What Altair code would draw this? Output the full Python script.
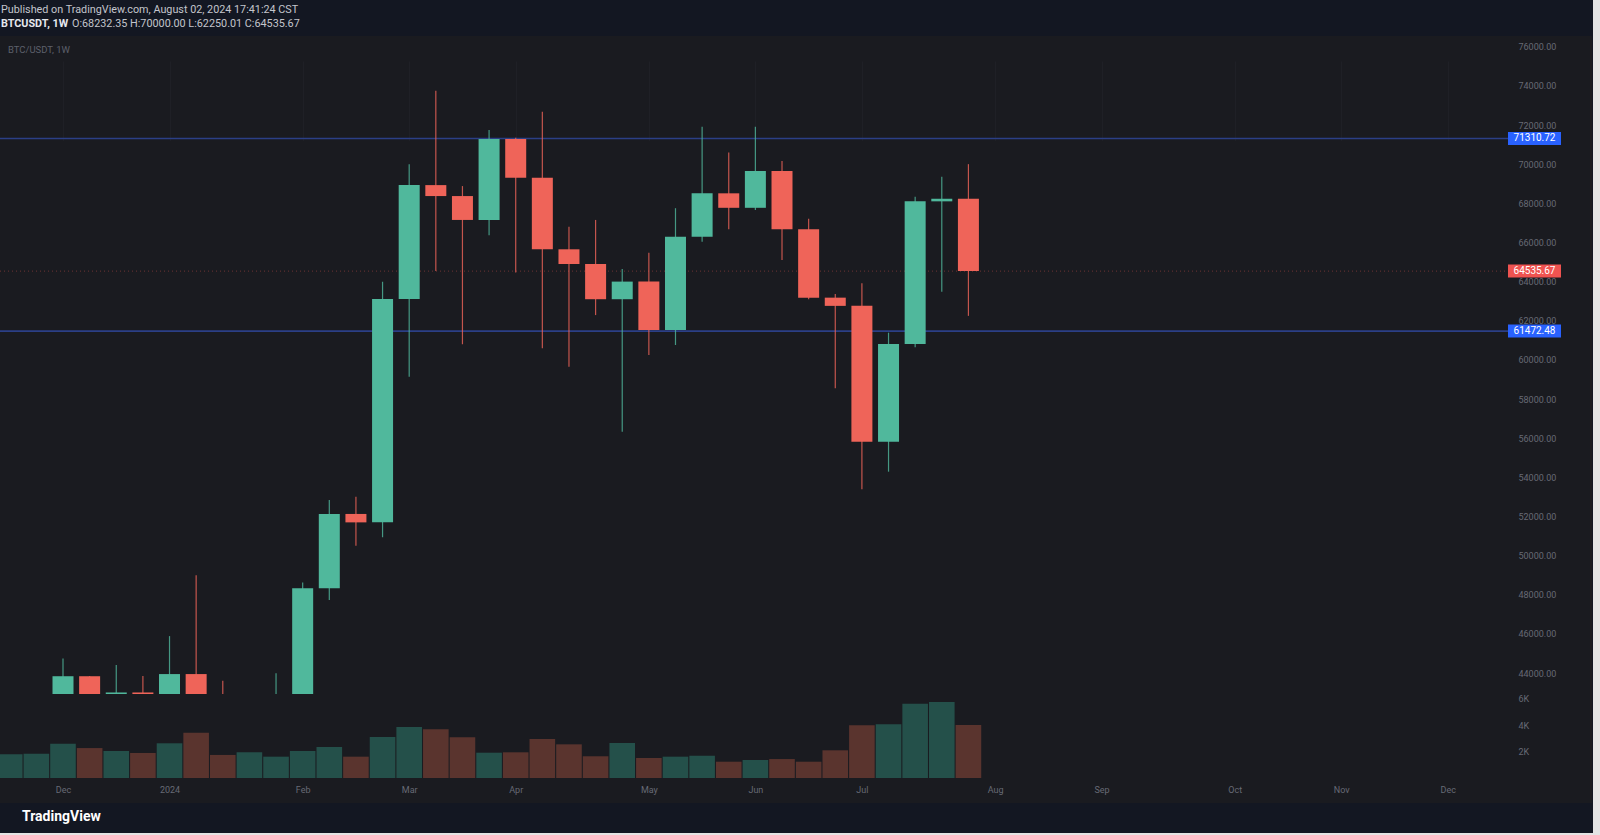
import altair as alt
import pandas as pd

# ---------------- data ----------------
weeks = ["2023-11-20", "2023-11-27", "2023-12-04", "2023-12-11", "2023-12-18", "2023-12-25",
         "2024-01-01", "2024-01-08", "2024-01-15", "2024-01-22", "2024-01-29", "2024-02-05",
         "2024-02-12", "2024-02-19", "2024-02-26", "2024-03-04", "2024-03-11", "2024-03-18",
         "2024-03-25", "2024-04-01", "2024-04-08", "2024-04-15", "2024-04-22", "2024-04-29",
         "2024-05-06", "2024-05-13", "2024-05-20", "2024-05-27", "2024-06-03", "2024-06-10",
         "2024-06-17", "2024-06-24", "2024-07-01", "2024-07-08", "2024-07-15", "2024-07-22",
         "2024-07-29"]
opens = [37360, 37450, 39970, 43840, 41360, 43010, 42280, 43950, 41730, 41580, 42120, 42580,
         48330, 52130, 51700, 63110, 68930, 68370, 67150, 71290, 69310, 65650, 64900, 63100,
         64000, 61530, 66290, 68510, 67770, 69650, 66670, 63180, 62760, 55820, 60810, 68100,
         68232.35]
highs = [38410, 40250, 44750, 43850, 44410, 43850, 45890, 49000, 43610, 42840, 43990, 48630,
         52840, 53010, 63990, 69990, 73750, 68880, 71740, 71350, 72680, 66800, 67150, 64640,
         65480, 67750, 71910, 70600, 71910, 70160, 67210, 63370, 63910, 61390, 68340, 69360,
         70000.00]
lows = [35630, 36870, 39970, 40500, 40550, 41400, 40750, 41500, 40280, 38560, 41800, 42260,
        47735, 50510, 50940, 59140, 64540, 60800, 66370, 64470, 60590, 59650, 62290, 56330,
        60250, 60760, 66040, 66670, 67660, 65100, 63100, 58550, 53390, 54290, 60640, 63480,
        62250.01]
closes = [37450, 39970, 43840, 41360, 43010, 42280, 43950, 41730, 41580, 42120, 42580, 48330,
          52130, 51700, 63110, 68930, 68370, 67150, 71290, 69310, 65650, 64900, 63100, 64000,
          61530, 66290, 68510, 67770, 69650, 66670, 63180, 62760, 55820, 60810, 68100, 68232.35,
          64535.67]
volumes = [1790, 1830, 2590, 2260, 2040, 1890, 2620, 3420, 1740, 1940, 1610, 2040,
           2340, 1610, 3090, 3850, 3670, 3070, 1910, 1940, 2940, 2540, 1640, 2640,
           1510, 1610, 1680, 1230, 1360, 1430, 1230, 2090, 3980, 4050, 5610, 5740, 4000]

level_prices = [71310.72, 61472.48, 64535.67]
level_kinds = ["blue", "blue", "red"]
level_labels = ["71310.72", "61472.48", "64535.67"]

price_ticks = [44000, 46000, 48000, 50000, 52000, 54000, 56000, 58000, 60000, 62000, 64000,
               66000, 68000, 70000, 72000, 74000, 76000]
volume_ticks = [2000, 4000, 6000]
month_ticks = ["2023-12-04", "2024-01-01", "2024-02-05", "2024-03-04", "2024-04-01", "2024-05-06",
               "2024-06-03", "2024-07-01", "2024-08-05", "2024-09-02", "2024-10-07", "2024-11-04",
               "2024-12-02"]

header_line1 = "Published on TradingView.com, August 02, 2024 17:41:24 CST"
header_symbol = "BTCUSDT, 1W"
header_ohlc = "O:68232.35 H:70000.00 L:62250.01 C:64535.67"
pane_title = "BTC/USDT, 1W"
brand = "TradingView"

# ---------------- layout ----------------
W, H = 1592, 767
PAD = {"left": 0, "top": 36, "right": 8, "bottom": 32}
BG_CHART = "#1a1b20"
BG_BAND = "#131722"
UP, DOWN = "#50b89c", "#ef6459"
VUP, VDOWN = "#24504a", "#5a342e"
AXIS_COL = "#676a75"
FONT = "Roboto"


def ms(d):
    return int(pd.Timestamp(d).value // 10**6)


WEEK = 7 * 86400000
PXW = 26.63
X0 = 63.0
anchor = ms("2023-12-04")
x_domain = [anchor - X0 / PXW * WEEK, anchor + (W - X0) / PXW * WEEK]

price_scale = alt.Scale(domain=[42932, 76547], range=[658, 0], clamp=True, zero=False, nice=False)
vol_scale = alt.Scale(domain=[0, 6000], range=[742, 662.5], zero=False, nice=False)

df = pd.DataFrame({"date": weeks, "open": opens, "high": highs, "low": lows,
                   "close": closes, "vol": volumes})
lv = pd.DataFrame({"price": level_prices, "kind": level_kinds, "label": level_labels})

x_enc = alt.X(
    "date:T",
    scale=alt.Scale(type="utc", domain=x_domain, nice=False, padding=0),
    axis=alt.Axis(values=[ms(d) for d in month_ticks],
                  labelExpr="utcmonth(datum.value) == 0 ? utcFormat(datum.value, '%Y') : utcFormat(datum.value, '%b')",
                  orient="bottom", offset=-20, grid=True, gridColor="#1f2026", gridWidth=1,
                  domain=False, ticks=False, labelPadding=2, labelColor=AXIS_COL,
                  labelFontSize=9, labelFont=FONT, title=None, labelFlush=False,
                  labelOverlap=False),
)

color_cond = alt.condition("datum.close >= datum.open", alt.value(UP), alt.value(DOWN))
vcolor_cond = alt.condition("datum.close >= datum.open", alt.value(VUP), alt.value(VDOWN))

base = alt.Chart(df)

volume = base.mark_bar(size=25.6, clip=True).encode(
    x=x_enc,
    y=alt.Y("vol:Q", scale=vol_scale,
            axis=alt.Axis(values=volume_ticks, labelExpr="(datum.value / 1000) + 'K'",
                          orient="right", offset=-74, labelAlign="left", labelPadding=0,
                          ticks=False, domain=False, grid=False, labelColor=AXIS_COL,
                          labelFontSize=9, labelFont=FONT, title=None)),
    color=vcolor_cond,
)

wick = base.mark_rule(strokeWidth=1.2, opacity=0.8).encode(
    x=x_enc,
    y=alt.Y("low:Q", scale=price_scale,
            axis=alt.Axis(values=price_ticks, format=".2f", orient="right", offset=-74,
                          labelAlign="left", labelPadding=0, ticks=False, domain=False,
                          grid=False, labelColor=AXIS_COL, labelFontSize=9, labelFont=FONT,
                          title=None, labelOverlap=False)),
    y2="high:Q",
    color=color_cond,
)

body = base.mark_bar(size=21).encode(
    x=x_enc,
    y=alt.Y("open:Q", scale=price_scale),
    y2="close:Q",
    color=color_cond,
)

lines = alt.Chart(lv).mark_rule().encode(
    y=alt.Y("price:Q", scale=price_scale),
    x=alt.value(0), x2=alt.value(1508),
    color=alt.condition("datum.kind == 'blue'", alt.value("#2b3f86"), alt.value("#6e3434")),
    strokeWidth=alt.condition("datum.kind == 'blue'", alt.value(1.6), alt.value(1)),
    strokeDash=alt.condition("datum.kind == 'blue'", alt.value([1, 0]), alt.value([1, 3])),
)

box_path = "M-1,-0.245L1,-0.245L1,0.245L-1,0.245Z"
boxes = alt.Chart(lv).mark_point(shape=box_path, size=53 * 53, filled=True, opacity=1,
                                 strokeWidth=0).encode(
    y=alt.Y("price:Q", scale=price_scale),
    x=alt.value(1534.5),
    color=alt.condition("datum.kind == 'blue'", alt.value("#2962ff"), alt.value("#ef5350")),
)

box_text = alt.Chart(lv).mark_text(color="#ffffff", fontSize=10, font=FONT, align="center",
                                   baseline="middle").encode(
    y=alt.Y("price:Q", scale=price_scale),
    x=alt.value(1534.5),
    text="label:N",
)


def text_layer(txt, x, y, size, color, weight="normal"):
    return alt.Chart(pd.DataFrame({"t": [txt]})).mark_text(
        align="left", baseline="middle", fontSize=size, font=FONT, color=color,
        fontWeight=weight).encode(x=alt.value(x), y=alt.value(y), text="t:N")


t1 = text_layer(header_line1, 1, -26.5, 10.8, "#c3c5cc")
t2 = text_layer(header_symbol, 1, -12.5, 10.8, "#e6e8ee", "bold")
t3 = text_layer(header_ohlc, 72, -12.5, 10.8, "#c3c5cc")
t4 = text_layer(pane_title, 8, 14, 9.5, "#5d606b")
t5 = text_layer(brand, 22, 781, 14, "#ffffff", "bold")

edge_r = alt.Chart(pd.DataFrame({"a": [0]})).mark_rect(color="#e4e4e4").encode(
    x=alt.value(1593), x2=alt.value(1600), y=alt.value(-36), y2=alt.value(799))
edge_b = alt.Chart(pd.DataFrame({"a": [0]})).mark_rect(color="#e4e4e4").encode(
    x=alt.value(0), x2=alt.value(1600), y=alt.value(797), y2=alt.value(799))

price_layer = alt.layer(lines, wick, body, boxes, box_text)

chart = alt.layer(volume, price_layer, t1, t2, t3, t4, t5, edge_r, edge_b).resolve_scale(
    y="independent"
).properties(
    width=W, height=H, padding=PAD,
    autosize=alt.AutoSizeParams(type="none"),
    background=BG_BAND,
).configure_view(fill=BG_CHART, stroke=None)

chart.save("out.html", embed_options={"renderer": "svg", "actions": False})
